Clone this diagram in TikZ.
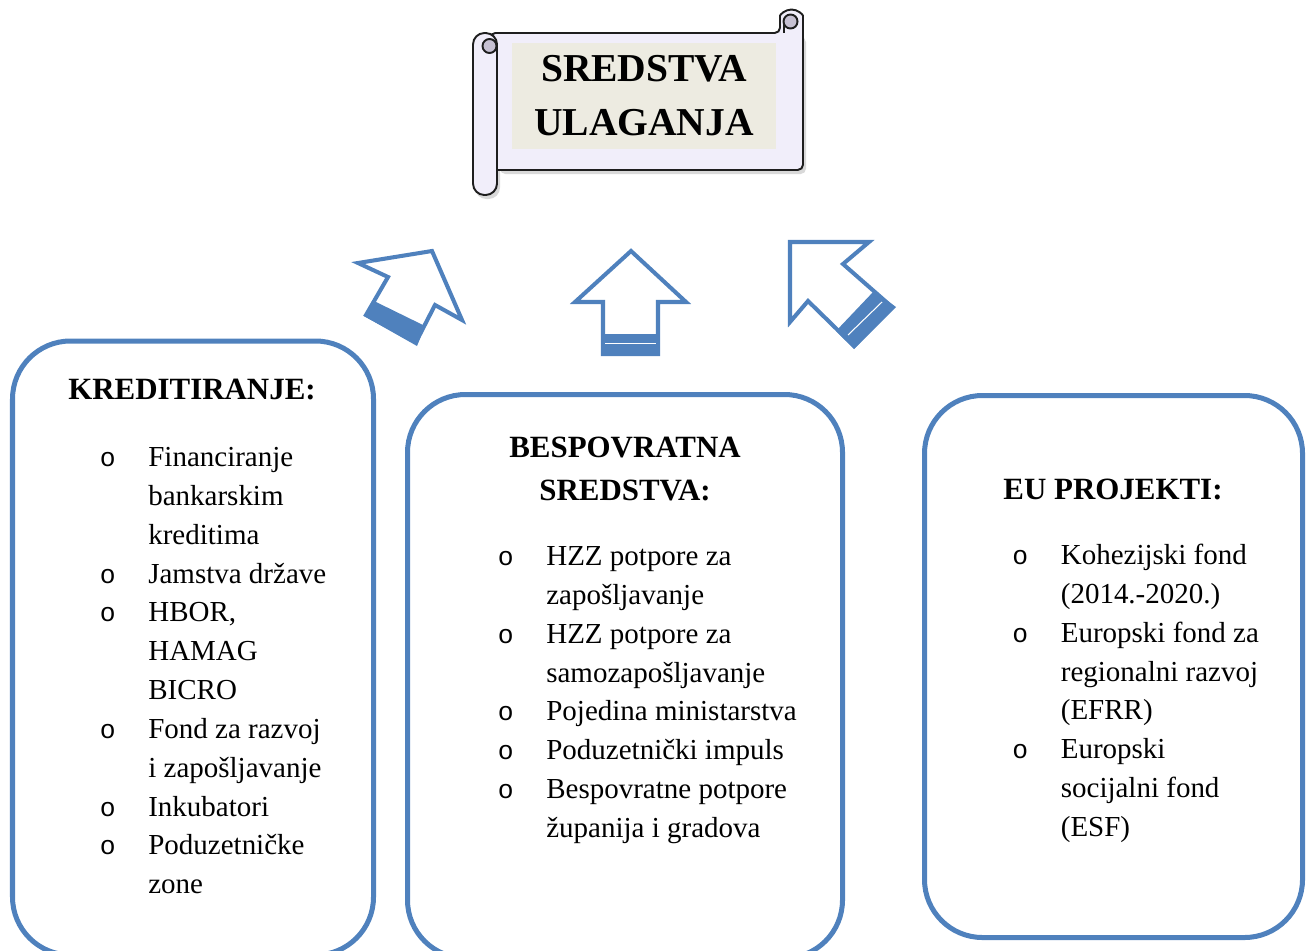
\documentclass[tikz,border=0pt]{standalone}
\usepackage{fontspec}
\setmainfont{Liberation Serif}
\newfontfamily\bulletfont{Liberation Mono}
\usetikzlibrary{calc}
\definecolor{boxblue}{HTML}{4F81BD}
\definecolor{scrollfill}{HTML}{F1EEFA}
\definecolor{curlfill}{HTML}{C6C0D2}
\definecolor{bannerfill}{HTML}{EDEBE1}
\definecolor{scrollline}{HTML}{1E1E1E}
\newcommand\itemfont{\fontsize{16.5}{22.1}\selectfont}
\newcommand\headfont{\fontsize{17.6}{24.5}\selectfont\bfseries}
\newcommand\titlefont{\fontsize{22.5}{30.7}\selectfont\bfseries}
\newcommand\bul{\makebox[0.97cm][l]{\bulletfont\fontsize{15}{15}\selectfont o}}
\tikzset{
    ulaganja diagram/.style = {x=0.02cm, y=-0.02cm},
    fund box/.style      = {draw=boxblue, line width=2.85pt, rounded corners=33pt},
    up arrow/.style      = {draw=boxblue, line width=2.3pt, fill=white,
                            line join=miter},
    arrow band/.style    = {fill=boxblue},
    band line/.style     = {draw=white, line width=0.6pt},
    scroll/.style        = {draw=scrollline, line width=1.1pt, fill=scrollfill,
                            rounded corners=3pt},
    scroll shadow/.style = {fill=black, opacity=0.15},
    banner/.style        = {fill=bannerfill, minimum width=5.28cm,
                            minimum height=2.12cm, inner sep=0pt,
                            align=center, font=\titlefont},
    heading/.style       = {inner sep=0pt, anchor=base, font=\headfont},
    itemlist/.style      = {inner sep=0pt, anchor=base west, font=\itemfont}
}

\begin{document}
\begin{tikzpicture}[ulaganja diagram]
\useasboundingbox (0,0) rectangle (1310,950);
\clip (0,0) rectangle (1310,950);

% ================= Scroll with the title =================
\fill[scroll shadow, rounded corners=3pt] (494,37) -- (806,37)
    -- (806,174) -- (500,174) -- cycle;
\fill[scroll shadow, rounded corners=6.5pt] (475,38) rectangle (500,199);
\draw[scroll] (490,33) -- (780,33) -- (780,21)
    arc[start angle=180, end angle=360, radius=11.5] -- (803,170)
    -- (490,170) -- cycle;
\draw[scroll, fill=curlfill] (790.5,21.5) circle[radius=7];
\draw[scroll] (784,23) -- (784,33);
\draw[scroll, rounded corners=6.5pt] (473,33) rectangle (497,195);
\draw[scroll, fill=curlfill] (489.5,46) circle[radius=7];
\node[banner] (title) at (644,96) {SREDSTVA\\ULAGANJA};

% ================= Block arrows =================
% left, tilted to the right
\draw[up arrow] (358,263) -- (432,251) -- (462,320) -- (435,305)
    -- (416,342) -- (366,315) -- (388,277) -- cycle;
\fill[arrow band] (364,316) -- (417,346) -- (425,326) -- (374,301) -- cycle;

% middle, straight up
\draw[up arrow] (631,251) -- (686,302) -- (658,302) -- (658,354)
    -- (603,354) -- (603,302) -- (575,302) -- cycle;
\fill[arrow band] (601,334) rectangle (660,356);
\draw[band line] (605,343.5) -- (656,343.5);

% right, tilted to the left
\draw[up arrow] (790,242) -- (869,242) -- (843,264) -- (892,307)
    -- (854,346) -- (808,301) -- (790,322) -- cycle;
\fill[arrow band] (874,291) -- (896,307) -- (854,349) -- (836,331) -- cycle;
\draw[band line] (882,302) -- (848,335);

% ================= Boxes =================
\draw[fund box] (12.5,341) rectangle (373.5,955);
\draw[fund box] (407.5,394.5) rectangle (842.5,958);
\draw[fund box] (924.5,395.5) rectangle (1302.5,937.5);

% ================= Box texts =================
\node[heading] (kredit head) at (192,399) {KREDITIRANJE:};
\node[itemlist] (kredit list) at (99.5,466.6) {\begin{tabular}[t]{@{}l@{}l@{}}
    \bul & Financiranje\\ & bankarskim\\ & kreditima\\
    \bul & Jamstva države\\
    \bul & HBOR,\\ & HAMAG\\ & BICRO\\
    \bul & Fond za razvoj\\ & i zapošljavanje\\
    \bul & Inkubatori\\
    \bul & Poduzetničke\\ & zone
\end{tabular}};

\node[heading] (bespov head) at (625,457)
    {\begin{tabular}[t]{@{}c@{}}BESPOVRATNA\\SREDSTVA:\end{tabular}};
\node[itemlist] (bespov list) at (497.5,565.6) {\begin{tabular}[t]{@{}l@{}l@{}}
    \bul & HZZ potpore za\\ & zapošljavanje\\
    \bul & HZZ potpore za\\ & samozapošljavanje\\
    \bul & Pojedina ministarstva\\
    \bul & Poduzetnički impuls\\
    \bul & Bespovratne potpore\\ & županija i gradova
\end{tabular}};

\node[heading] (eu head) at (1113,499) {EU PROJEKTI:};
\node[itemlist] (eu list) at (1012,564.6) {\begin{tabular}[t]{@{}l@{}l@{}}
    \bul & Kohezijski fond\\ & (2014.-2020.)\\
    \bul & Europski fond za\\ & regionalni razvoj\\ & (EFRR)\\
    \bul & Europski\\ & socijalni fond\\ & (ESF)
\end{tabular}};

\end{tikzpicture}
\end{document}
